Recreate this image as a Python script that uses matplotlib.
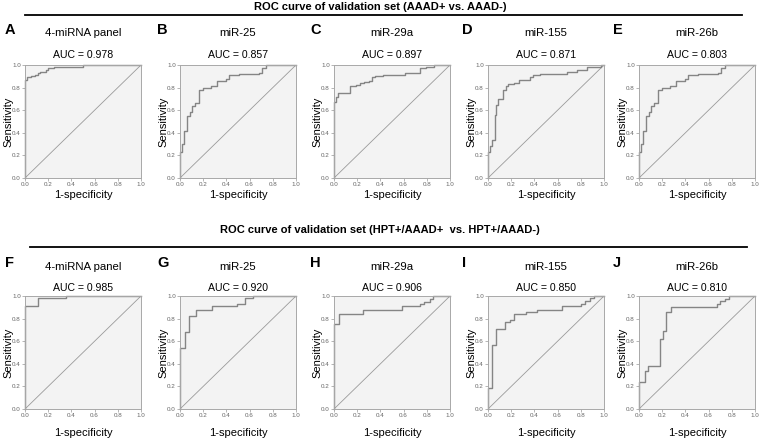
import matplotlib
matplotlib.use('Agg')
import matplotlib.pyplot as plt

plt.rcParams['font.family'] = ['Liberation Sans', 'DejaVu Sans']

# row titles
row_titles = ['ROC curve of validation set (AAAD+ vs. AAAD-)',
              'ROC curve of validation set (HPT+/AAAD+  vs. HPT+/AAAD-)']

letters = [['A', 'B', 'C', 'D', 'E'], ['F', 'G', 'H', 'I', 'J']]
names = ['4-miRNA panel', 'miR-25', 'miR-29a', 'miR-155', 'miR-26b']
auc_top = [0.978, 0.857, 0.897, 0.871, 0.803]
auc_bot = [0.985, 0.920, 0.906, 0.850, 0.810]

# ROC steps: tpr rises to tpr[i] at fpr[i]
fpr_A = [0, 0, 0.02, 0.05, 0.09, 0.11, 0.13, 0.18, 0.20, 0.25, 0.50, 1.0]
tpr_A = [0, 0.87, 0.89, 0.90, 0.91, 0.93, 0.94, 0.96, 0.97, 0.98, 1.0, 1.0]
fpr_B = [0, 0, 0.015, 0.036, 0.057, 0.09, 0.105, 0.126, 0.162, 0.20, 0.267, 0.32, 0.395, 0.425, 0.51, 0.68, 0.71, 0.74, 1.0]
tpr_B = [0, 0.23, 0.30, 0.42, 0.55, 0.58, 0.64, 0.66, 0.78, 0.80, 0.81, 0.86, 0.88, 0.91, 0.92, 0.93, 0.97, 1.0, 1.0]
fpr_C = [0, 0, 0.015, 0.038, 0.137, 0.19, 0.22, 0.26, 0.30, 0.33, 0.35, 0.42, 0.61, 0.74, 0.79, 0.86, 1.0]
tpr_C = [0, 0.67, 0.72, 0.75, 0.81, 0.82, 0.84, 0.85, 0.86, 0.89, 0.90, 0.91, 0.93, 0.97, 0.98, 1.0, 1.0]
fpr_D = [0, 0, 0.017, 0.038, 0.058, 0.073, 0.087, 0.125, 0.154, 0.169, 0.227, 0.27, 0.36, 0.39, 0.445, 0.59, 0.68, 0.77, 0.85, 0.97, 1.0]
tpr_D = [0, 0.23, 0.28, 0.34, 0.56, 0.65, 0.70, 0.78, 0.81, 0.83, 0.84, 0.87, 0.89, 0.91, 0.92, 0.92, 0.94, 0.96, 0.98, 1.0, 1.0]
fpr_E = [0, 0, 0.015, 0.036, 0.057, 0.09, 0.105, 0.126, 0.162, 0.20, 0.267, 0.32, 0.395, 0.425, 0.51, 0.68, 0.71, 0.74, 1.0]
tpr_E = [0, 0.23, 0.30, 0.42, 0.55, 0.58, 0.64, 0.66, 0.78, 0.80, 0.81, 0.86, 0.88, 0.91, 0.92, 0.93, 0.97, 1.0, 1.0]

fpr_F = [0, 0, 0.11, 0.35, 1.0]
tpr_F = [0, 0.91, 0.98, 1.0, 1.0]
fpr_G = [0, 0, 0.043, 0.08, 0.14, 0.28, 0.49, 0.56, 0.63, 1.0]
tpr_G = [0, 0.54, 0.68, 0.82, 0.88, 0.91, 0.93, 0.98, 1.0, 1.0]
fpr_H = [0, 0, 0.04, 0.25, 0.59, 0.74, 0.78, 0.83, 0.855, 1.0]
tpr_H = [0, 0.75, 0.84, 0.88, 0.91, 0.93, 0.95, 0.97, 1.0, 1.0]
fpr_I = [0, 0, 0.038, 0.072, 0.145, 0.19, 0.22, 0.33, 0.42, 0.64, 0.80, 0.84, 0.88, 0.91, 1.0]
tpr_I = [0, 0.19, 0.57, 0.71, 0.77, 0.79, 0.84, 0.86, 0.88, 0.91, 0.93, 0.96, 0.98, 1.0, 1.0]
fpr_J = [0, 0, 0.05, 0.08, 0.185, 0.21, 0.23, 0.28, 0.67, 0.70, 0.74, 0.78, 1.0]
tpr_J = [0, 0.24, 0.34, 0.38, 0.62, 0.69, 0.86, 0.90, 0.93, 0.96, 0.97, 1.0, 1.0]

curves = [[(fpr_A, tpr_A), (fpr_B, tpr_B), (fpr_C, tpr_C), (fpr_D, tpr_D), (fpr_E, tpr_E)],
          [(fpr_F, tpr_F), (fpr_G, tpr_G), (fpr_H, tpr_H), (fpr_I, tpr_I), (fpr_J, tpr_J)]]
aucs = [auc_top, auc_bot]

W, H = 760, 440
fig = plt.figure(figsize=(7.6, 4.4), dpi=100)

lefts = [25, 180, 334, 488, 639]
ax_w = 116
letter_x = [5, 157, 310, 462, 613]
# per row: title y, line y, letter y, name y, auc y, axes top, axes bottom, xlabel y, line x0, x1
rows = [dict(title=7, line=15, letter=30, name=33, auc=55, top=65, bot=178, xlab=195, lx0=25, lx1=742),
        dict(title=230, line=247, letter=263, name=267, auc=288, top=296, bot=409, xlab=433, lx0=30, lx1=747)]

for r, row in enumerate(rows):
    fig.text(380 / W, 1 - row['title'] / H, row_titles[r], ha='center', va='center',
             fontsize=8, fontweight='bold')
    fig.add_artist(plt.Line2D([row['lx0'] / W, row['lx1'] / W],
                              [1 - row['line'] / H, 1 - row['line'] / H],
                              color='black', lw=1.3))
    for c in range(5):
        x0 = lefts[c]
        ax = fig.add_axes([x0 / W, 1 - row['bot'] / H, ax_w / W, (row['bot'] - row['top']) / H])
        ax.set_facecolor('#f3f3f3')
        fpr, tpr = curves[r][c]
        ax.plot([0, 1], [0, 1], color='#9a9a9a', lw=0.6)
        ax.step(fpr, tpr, where='post', color='#858585', lw=1.0, clip_on=False)
        ax.set_xlim(0, 1)
        ax.set_ylim(0, 1)
        ax.set_xticks([0, 0.2, 0.4, 0.6, 0.8, 1.0])
        ax.set_yticks([0, 0.2, 0.4, 0.6, 0.8, 1.0])
        ax.set_xticklabels(['0.0', '0.2', '0.4', '0.6', '0.8', '1.0'])
        ax.set_yticklabels(['0.0', '0.2', '0.4', '0.6', '0.8', '1.0'])
        ax.tick_params(labelsize=4.5, labelcolor='#666666', color='#999999',
                       length=2, width=0.5, pad=1)
        for s in ax.spines.values():
            s.set_color('#a8a8a8')
            s.set_linewidth(0.7)
        ax.set_ylabel('Sensitivity', fontsize=8)
        ax.yaxis.set_label_coords(-0.1, 0.5)
        ax.set_xlabel('1-specificity', fontsize=8)
        ax.xaxis.set_label_coords(0.5, -(row['xlab'] - row['bot']) / (row['bot'] - row['top']))
        ax.xaxis.label.set_va('center')
        cx = (x0 + ax_w / 2) / W
        fig.text(cx, 1 - row['name'] / H, names[c], ha='center', va='center', fontsize=8.2)
        fig.text(cx, 1 - row['auc'] / H, 'AUC = %.3f' % aucs[r][c], ha='center', va='center',
                 fontsize=7.6)
        fig.text(letter_x[c] / W, 1 - row['letter'] / H, letters[r][c], ha='left', va='center',
                 fontsize=10.5, fontweight='bold')

fig.savefig('out.png', dpi=100)
